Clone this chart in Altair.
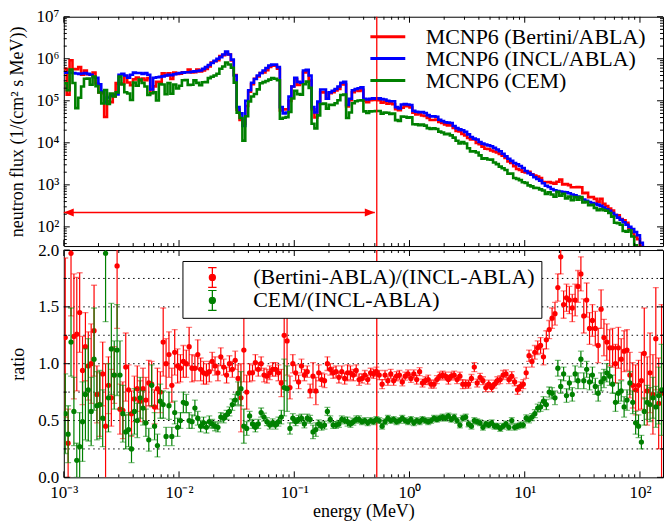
import math
import pandas as pd
import altair as alt

FONT = "Liberation Serif"
RED, BLUE, GREEN = "#ff0000", "#0000ff", "#008000"

# ---- energy grid: 40 log-spaced bins per decade from 1 keV to 158.5 MeV ----
EDGE_MANTISSA = [1.000, 1.059, 1.122, 1.189, 1.259, 1.334, 1.413, 1.496, 1.585, 1.679,
                 1.778, 1.884, 1.995, 2.113, 2.239, 2.371, 2.512, 2.661, 2.818, 2.985,
                 3.162, 3.350, 3.548, 3.758, 3.981, 4.217, 4.467, 4.732, 5.012, 5.309,
                 5.623, 5.957, 6.310, 6.683, 7.079, 7.499, 7.943, 8.414, 8.913, 9.441]
DECADES = [1e-3, 1e-2, 1e-1, 1.0, 10.0, 100.0]
E_MAX = 158.5
N_BINS = 208

# ---- INCL/ABLA neutron flux per bin, log10 of 1/(cm^2 s MeV) ----
INCL_LOG_FLUX = [
    5.67, 5.67, 5.67, 5.66, 5.65, 5.64, 5.65, 5.66, 5.64, 5.62,
    5.56, 5.55, 5.39, 5.22, 4.96, 5.08, 5.12, 5.15, 5.15, 5.62,
    5.64, 5.60, 5.55, 5.62, 5.67, 5.66, 5.66, 5.64, 5.66, 5.62,
    5.27, 5.55, 5.56, 5.57, 5.58, 5.60, 5.62, 5.61, 5.63, 5.65,
    5.66, 5.67, 5.68, 5.68, 5.69, 5.70, 5.71, 5.72, 5.76, 5.80,
    5.85, 5.90, 5.95, 6.00, 6.04, 6.10, 6.17, 6.10, 5.98, 5.60,
    4.85, 4.70, 4.40, 5.00, 5.25, 5.43, 5.52, 5.60, 5.66, 5.72,
    5.78, 5.84, 5.86, 5.86, 5.80, 4.85, 4.70, 4.72, 5.10, 5.34,
    5.55, 5.45, 5.43, 5.72, 5.74, 5.60, 4.85, 4.72, 4.98, 5.27,
    5.27, 5.05, 5.20, 5.24, 5.28, 5.34, 5.43, 5.45, 4.90, 5.05,
    5.25, 5.28, 5.30, 5.32, 5.05, 5.03, 5.05, 5.06, 5.05, 5.06,
    5.04, 5.03, 5.00, 4.99, 4.99, 4.85, 4.82, 4.91, 4.92, 4.91,
    4.90, 4.76, 4.74, 4.73, 4.73, 4.71, 4.66, 4.63, 4.63, 4.62,
    4.55, 4.52, 4.49, 4.48, 4.47, 4.40, 4.35, 4.32, 4.30, 4.26,
    4.20, 4.14, 4.10, 4.08, 4.02, 3.98, 3.96, 3.94, 3.92, 3.88,
    3.84, 3.80, 3.74, 3.68, 3.62, 3.57, 3.52, 3.49, 3.45, 3.40,
    3.33, 3.28, 3.24, 3.18, 3.14, 3.10, 3.04, 2.98, 2.95, 2.90,
    2.87, 2.85, 2.84, 2.83, 2.82, 2.80, 2.77, 2.75, 2.72, 2.69,
    2.65, 2.62, 2.59, 2.57, 2.55, 2.53, 2.50, 2.46, 2.42, 2.38,
    2.33, 2.28, 2.22, 2.17, 2.11, 2.05, 2.00, 1.95, 1.88, 1.80,
    1.62, 1.30, 1.25, 1.20, 1.15, 1.10, 1.05, 1.00,
]

# ---- (Bertini-ABLA)/(INCL-ABLA) ratio and its uncertainty ----
BERTINI_RATIO = [
    1.23, 0.30, 1.97, 1.24, 1.26, 1.45, 0.94, 1.15, 0.98, 1.00,
    1.29, 0.73, 0.64, 0.91, 0.45, 0.81, 0.70, 0.90, 1.86, 0.60,
    0.59, 0.97, 0.77, 0.56, 0.69, 0.78, 0.67, 0.78, 0.68, 0.83,
    0.82, 0.62, 0.78, 0.75, 1.19, 1.00, 1.08, 0.81, 1.10, 0.98,
    0.96, 1.02, 1.00, 1.15, 0.96, 0.96, 1.08, 0.95, 0.92, 0.91,
    0.93, 1.02, 0.98, 0.92, 1.06, 0.97, 0.90, 1.00, 0.95, 1.03,
    0.87, 0.70, 1.12, 0.75, 0.92, 0.92, 1.01, 0.95, 1.00, 0.90,
    0.89, 0.92, 0.95, 0.95, 0.92, 0.83, 1.25, 1.20, 0.79, 1.00,
    0.92, 0.84, 0.98, 0.90, 0.93, 0.76, 0.89, 0.76, 0.92, 0.86,
    0.85, 1.00, 0.95, 0.92, 0.93, 0.88, 0.93, 0.87, 0.92, 0.92,
    0.90, 0.94, 0.86, 0.87, 0.90, 0.86, 0.92, 0.91, 0.93, 0.90,
    0.82, 0.90, 0.85, 0.91, 0.85, 0.89, 0.90, 0.84, 0.89, 0.91,
    0.87, 0.91, 0.86, 0.93, 0.83, 0.85, 0.86, 0.82, 0.82, 0.86,
    0.89, 0.90, 0.89, 0.86, 0.89, 0.90, 0.86, 0.89, 0.82, 0.82,
    0.82, 0.87, 0.97, 0.83, 0.88, 0.85, 0.79, 0.82, 0.79, 0.82,
    0.85, 0.86, 0.90, 0.91, 0.86, 0.89, 0.84, 0.77, 0.80, 0.82,
    0.92, 1.07, 1.02, 1.10, 1.14, 1.16, 1.06, 1.21, 1.30, 1.40,
    1.44, 1.67, 1.94, 1.52, 1.58, 1.56, 1.49, 1.56, 1.68, 1.79,
    1.42, 1.56, 1.31, 1.38, 1.31, 1.16, 1.48, 1.23, 1.19, 1.14,
    1.14, 1.00, 1.14, 1.04, 1.11, 1.12, 0.90, 0.81, 0.77, 0.81,
    0.85, 1.09, 0.76, 0.92, 0.73, 1.22, 0.65, 0.74,
]
BERTINI_ERR = [
    0.70, 0.30, 0.55, 0.55, 0.50, 0.35, 0.30, 0.30, 0.30, 0.35,
    0.40, 0.25, 0.28, 0.28, 0.55, 0.25, 0.25, 0.25, 0.55, 0.22,
    0.25, 0.30, 0.22, 0.20, 0.20, 0.20, 0.18, 0.18, 0.20, 0.20,
    0.20, 0.15, 0.18, 0.18, 0.30, 0.22, 0.20, 0.15, 0.20, 0.15,
    0.12, 0.14, 0.12, 0.17, 0.12, 0.11, 0.13, 0.10, 0.10, 0.09,
    0.09, 0.08, 0.08, 0.07, 0.08, 0.07, 0.07, 0.07, 0.07, 0.08,
    0.12, 0.30, 0.28, 0.15, 0.08, 0.07, 0.07, 0.06, 0.06, 0.06,
    0.06, 0.06, 0.06, 0.06, 0.07, 0.12, 0.40, 0.30, 0.10, 0.08,
    0.07, 0.06, 0.06, 0.05, 0.05, 0.06, 0.12, 0.12, 0.07, 0.06,
    0.06, 0.06, 0.05, 0.05, 0.05, 0.05, 0.05, 0.05, 0.07, 0.06,
    0.05, 0.05, 0.05, 0.04, 0.04, 0.04, 0.04, 0.04, 0.04, 0.04,
    0.04, 0.04, 0.04, 0.04, 0.04, 0.04, 0.04, 0.035, 0.035, 0.035,
    0.035, 0.035, 0.04, 0.035, 0.035, 0.035, 0.04, 0.035, 0.035, 0.035,
    0.035, 0.035, 0.035, 0.04, 0.035, 0.035, 0.035, 0.035, 0.04, 0.035,
    0.035, 0.035, 0.04, 0.035, 0.035, 0.035, 0.035, 0.035, 0.035, 0.035,
    0.035, 0.035, 0.04, 0.035, 0.035, 0.04, 0.035, 0.04, 0.04, 0.04,
    0.05, 0.05, 0.05, 0.06, 0.06, 0.07, 0.07, 0.08, 0.08, 0.09,
    0.10, 0.12, 0.15, 0.12, 0.12, 0.12, 0.12, 0.14, 0.14, 0.15,
    0.15, 0.15, 0.14, 0.14, 0.15, 0.15, 0.17, 0.16, 0.16, 0.16,
    0.17, 0.17, 0.18, 0.18, 0.18, 0.18, 0.20, 0.20, 0.22, 0.22,
    0.25, 0.40, 0.30, 0.35, 0.35, 0.45, 0.40, 0.78,
]

# ---- CEM/(INCL-ABLA) ratio and its uncertainty ----
CEM_RATIO = [
    0.56, 0.38, 1.19, 0.58, 0.15, 0.27, 0.49, 0.73, 0.77, 0.58,
    1.04, 0.63, 0.64, 0.52, 1.97, 0.70, 1.13, 0.90, 1.12, 0.90,
    0.56, 0.40, 0.42, 0.25, 0.58, 0.50, 0.70, 0.61, 0.48, 0.33,
    0.81, 0.45, 0.28, 0.67, 0.64, 0.36, 0.63, 0.36, 0.57, 0.44,
    0.50, 0.66, 0.65, 0.50, 0.49, 0.61, 0.52, 0.45, 0.48, 0.44,
    0.49, 0.47, 0.45, 0.44, 0.53, 0.52, 0.55, 0.58, 0.64, 0.68,
    0.74, 0.78, 0.45, 0.43, 0.54, 0.47, 0.44, 0.47, 0.57, 0.53,
    0.49, 0.46, 0.48, 0.46, 0.49, 0.53, 0.79, 0.78, 0.43, 0.52,
    0.49, 0.51, 0.52, 0.47, 0.52, 0.51, 0.40, 0.42, 0.47, 0.45,
    0.46, 0.58, 0.51, 0.46, 0.46, 0.47, 0.51, 0.50, 0.49, 0.47,
    0.49, 0.51, 0.51, 0.49, 0.50, 0.48, 0.50, 0.49, 0.51, 0.50,
    0.45, 0.49, 0.52, 0.50, 0.51, 0.49, 0.50, 0.52, 0.50, 0.49,
    0.51, 0.48, 0.50, 0.49, 0.51, 0.50, 0.49, 0.50, 0.52, 0.51,
    0.52, 0.53, 0.52, 0.54, 0.51, 0.53, 0.50, 0.46, 0.52, 0.53,
    0.47, 0.45, 0.50, 0.49, 0.48, 0.44, 0.47, 0.46, 0.48, 0.45,
    0.45, 0.43, 0.45, 0.47, 0.44, 0.50, 0.44, 0.45, 0.46, 0.46,
    0.52, 0.51, 0.53, 0.56, 0.61, 0.62, 0.67, 0.64, 0.75, 0.74,
    0.70, 0.96, 0.80, 0.91, 0.72, 0.83, 0.73, 0.91, 0.85, 1.04,
    0.85, 0.95, 0.84, 0.90, 0.80, 0.74, 0.84, 0.87, 0.92, 0.89,
    0.82, 0.66, 0.74, 0.76, 0.62, 0.68, 0.83, 0.66, 0.48, 0.45,
    0.31, 0.58, 0.66, 0.64, 0.70, 0.62, 0.72, 0.77,
]
CEM_ERR = [
    0.35, 0.25, 0.30, 0.30, 0.15, 0.30, 0.35, 0.40, 0.45, 0.30,
    0.45, 0.30, 0.30, 0.25, 0.60, 0.30, 0.40, 0.30, 0.40, 0.30,
    0.25, 0.15, 0.15, 0.12, 0.20, 0.15, 0.18, 0.15, 0.12, 0.10,
    0.18, 0.12, 0.10, 0.15, 0.12, 0.08, 0.12, 0.08, 0.10, 0.08,
    0.07, 0.09, 0.08, 0.07, 0.06, 0.07, 0.06, 0.05, 0.05, 0.05,
    0.05, 0.04, 0.04, 0.04, 0.04, 0.04, 0.04, 0.04, 0.05, 0.05,
    0.10, 0.15, 0.15, 0.06, 0.04, 0.04, 0.04, 0.04, 0.04, 0.035,
    0.035, 0.035, 0.035, 0.035, 0.04, 0.06, 0.25, 0.20, 0.05, 0.04,
    0.035, 0.035, 0.035, 0.035, 0.035, 0.035, 0.06, 0.06, 0.035, 0.035,
    0.035, 0.035, 0.03, 0.03, 0.03, 0.03, 0.03, 0.03, 0.04, 0.03,
    0.03, 0.03, 0.03, 0.025, 0.025, 0.025, 0.025, 0.025, 0.025, 0.025,
    0.025, 0.025, 0.025, 0.025, 0.025, 0.025, 0.025, 0.025, 0.025, 0.025,
    0.025, 0.025, 0.025, 0.025, 0.025, 0.025, 0.025, 0.025, 0.025, 0.025,
    0.025, 0.025, 0.025, 0.025, 0.025, 0.025, 0.025, 0.025, 0.025, 0.025,
    0.025, 0.025, 0.025, 0.025, 0.025, 0.025, 0.025, 0.025, 0.025, 0.025,
    0.025, 0.025, 0.025, 0.025, 0.025, 0.025, 0.025, 0.025, 0.025, 0.025,
    0.03, 0.03, 0.03, 0.035, 0.035, 0.04, 0.04, 0.045, 0.045, 0.05,
    0.06, 0.07, 0.06, 0.06, 0.06, 0.06, 0.06, 0.07, 0.07, 0.07,
    0.07, 0.07, 0.07, 0.07, 0.07, 0.07, 0.08, 0.08, 0.08, 0.08,
    0.08, 0.08, 0.09, 0.09, 0.09, 0.09, 0.10, 0.10, 0.10, 0.10,
    0.06, 0.12, 0.15, 0.15, 0.18, 0.18, 0.25, 0.40,
]

FLUX_NAMES = ["MCNP6 (Bertini/ABLA)", "MCNP6 (INCL/ABLA)", "MCNP6 (CEM)"]
RATIO_NAMES = ["(Bertini-ABLA)/(INCL-ABLA)", "CEM/(INCL-ABLA)"]

CUT_ENERGY = 0.52           # vertical marker line (MeV)
ARROW_SPAN = [1e-3, 0.5]    # double arrow below the spectrum (MeV)
ARROW_FLUX = 220

X_MAJOR = [1e-3, 1e-2, 1e-1, 1.0, 10.0, 100.0]
FLUX_MAJOR = [1e2, 1e3, 1e4, 1e5, 1e6, 1e7]
RATIO_MAJOR = [0.0, 0.5, 1.0, 1.5, 2.0]
RATIO_MINOR = [0.25, 0.75, 1.25, 1.75]
RATIO_GRID = [0.25, 0.5, 0.75, 1.0, 1.25, 1.5, 1.75]

for arr in (INCL_LOG_FLUX, BERTINI_RATIO, BERTINI_ERR, CEM_RATIO, CEM_ERR):
    if len(arr) != N_BINS:
        raise ValueError(f"expected {N_BINS} bins, got {len(arr)}")

# ---- tables ----
edges = [m * d for d in DECADES for m in EDGE_MANTISSA][:N_BINS] + [E_MAX]
centers = [math.sqrt(a * b) for a, b in zip(edges[:-1], edges[1:])]

incl = [10 ** v for v in INCL_LOG_FLUX]
bertini = [f * r for f, r in zip(incl, BERTINI_RATIO)]
cem = [f * r for f, r in zip(incl, CEM_RATIO)]

rows = []
for name, vals in zip(FLUX_NAMES, [bertini, incl, cem]):
    for e, v in zip(edges, vals + [vals[-1]]):
        rows.append({"E": e, "flux": v, "series": name})
flux_df = pd.DataFrame(rows)

rrows = []
for name, ratio, err in zip(RATIO_NAMES, [BERTINI_RATIO, CEM_RATIO], [BERTINI_ERR, CEM_ERR]):
    for e, r, s in zip(centers, ratio, err):
        rrows.append({"E": e, "ratio": r, "lo": r - s, "hi": r + s, "series": name})
ratio_df = pd.DataFrame(rrows)

x_minor = [m * d for d in DECADES for m in range(2, 10) if m * d < E_MAX]
flux_minor = [m * d for d in [10.0, 1e2, 1e3, 1e4, 1e5, 1e6] for m in range(2, 10) if m * d >= 35]

# ---- geometry ----
W = 601
H_TOP = 230
H_BOT = 228
MAJOR_LEN, MINOR_LEN = 6, 3

x_scale = alt.Scale(type="log", domain=[1e-3, E_MAX], nice=False)
flux_scale = alt.Scale(type="log", domain=[35, 1e7], nice=False)
ratio_scale = alt.Scale(domain=[0, 2], nice=False, zero=False)

SUP = "['\u2070','\u00b9','\u00b2','\u00b3','\u2074','\u2075','\u2076','\u2077','\u2078','\u2079']"
EXP = "round(log(datum.value) / LN10)"
POW10 = f"'10' + ({EXP} < 0 ? '\u207b' : '') + {SUP}[abs({EXP})]"

# ---- axes (the same spec is handed to every layer of a panel so they merge) ----
flux_axis = alt.Axis(values=FLUX_MAJOR, labelExpr=POW10, ticks=False, domain=False, grid=False,
                     labelPadding=5, labelFontSize=17, labelOverlap=False,
                     title="neutron flux (1/(cm\u00b2 s MeV))", titleFontSize=18,
                     titleX=-46, titleY=H_TOP / 2, titleBaseline="middle", titleAngle=270)
ratio_axis = alt.Axis(values=RATIO_MAJOR, format=".1f", ticks=False, domain=False, grid=False,
                      labelPadding=5, labelFontSize=17, labelOverlap=False,
                      title="ratio", titleFontSize=18,
                      titleX=-45, titleY=H_BOT / 2, titleBaseline="middle", titleAngle=270)
energy_axis = alt.Axis(values=X_MAJOR, labelExpr=POW10, ticks=False, domain=False, grid=False,
                       labelPadding=7, labelFontSize=17, labelFlush=False, labelOverlap=False,
                       title="energy (MeV)", titleFontSize=18, titlePadding=2)


def frame_ticks(values, channel, scale, axis, width, height, length):
    """Inward tick marks on both opposite edges of a panel."""
    df = pd.DataFrame({"v": values})
    base = alt.Chart(df).mark_rule(color="black", strokeWidth=1)
    if channel == "x":
        pos = alt.X("v:Q", scale=scale, axis=axis)
        return [base.encode(x=pos, y=alt.value(height), y2=alt.value(height - length)),
                base.encode(x=pos, y=alt.value(0), y2=alt.value(length))]
    pos = alt.Y("v:Q", scale=scale, axis=axis)
    return [base.encode(y=pos, x=alt.value(0), x2=alt.value(length)),
            base.encode(y=pos, x=alt.value(width), x2=alt.value(width - length))]


def cut_rule(x_axis):
    return alt.Chart(pd.DataFrame({"E": [CUT_ENERGY]})).mark_rule(
        color=RED, strokeWidth=1.3).encode(x=alt.X("E:Q", scale=x_scale, axis=x_axis))


# ---- upper panel: flux spectra ----
x_top = alt.X("E:Q", scale=x_scale, axis=None)
flux_legend = alt.Legend(title=None, orient="none", legendX=306, legendY=9,
                         symbolType="stroke", symbolSize=1225, symbolStrokeWidth=3,
                         labelFont=FONT, labelFontSize=22, labelOffset=19, labelLimit=400,
                         padding=0, rowPadding=0, clipHeight=22)
flux_color = alt.Color("series:N", scale=alt.Scale(domain=FLUX_NAMES, range=[RED, BLUE, GREEN]),
                       legend=flux_legend)


def flux_line(name):
    return (alt.Chart(flux_df).transform_filter(alt.datum.series == name)
            .mark_line(interpolate="step-after", strokeWidth=2.6, clip=True)
            .encode(x=x_top, y=alt.Y("flux:Q", scale=flux_scale, axis=flux_axis), color=flux_color))


arrow_df = pd.DataFrame({"E0": [ARROW_SPAN[0]], "E1": [ARROW_SPAN[1]], "flux": [ARROW_FLUX]})
arrow_line = alt.Chart(arrow_df).mark_rule(color=RED, strokeWidth=1.3).encode(
    x=alt.X("E0:Q", scale=x_scale, axis=None), x2="E1:Q",
    y=alt.Y("flux:Q", scale=flux_scale, axis=flux_axis))
head_left = alt.Chart(pd.DataFrame({"E": [ARROW_SPAN[0]], "flux": [ARROW_FLUX]})).mark_point(
    shape="M0,0L2,-0.8L2,0.8Z", size=100, filled=True, color=RED, opacity=1, strokeWidth=0
).encode(x=x_top, y=alt.Y("flux:Q", scale=flux_scale, axis=flux_axis))
head_right = alt.Chart(pd.DataFrame({"E": [ARROW_SPAN[1]], "flux": [ARROW_FLUX]})).mark_point(
    shape="M0,0L-2,-0.8L-2,0.8Z", size=100, filled=True, color=RED, opacity=1, strokeWidth=0
).encode(x=x_top, y=alt.Y("flux:Q", scale=flux_scale, axis=flux_axis))

top_layers = [flux_line(n) for n in FLUX_NAMES] + [cut_rule(None), arrow_line, head_left, head_right]
top_layers += frame_ticks(X_MAJOR, "x", x_scale, None, W, H_TOP, MAJOR_LEN)
top_layers += frame_ticks(x_minor, "x", x_scale, None, W, H_TOP, MINOR_LEN)
top_layers += frame_ticks(FLUX_MAJOR, "y", flux_scale, flux_axis, W, H_TOP, MAJOR_LEN)
top_layers += frame_ticks(flux_minor, "y", flux_scale, flux_axis, W, H_TOP, MINOR_LEN)
top = alt.layer(*top_layers).properties(width=W, height=H_TOP)

# ---- lower panel: ratios with error bars ----
x_bot = alt.X("E:Q", scale=x_scale, axis=energy_axis)

# legend glyph: filled dot with a capped vertical error bar
RATIO_GLYPH = ("M-0.3,0A0.3,0.3,0,1,1,0.3,0A0.3,0.3,0,1,1,-0.3,0Z"
               "M0,-1L0,1M-0.42,-1L0.42,-1M-0.42,1L0.42,1")
ratio_legend = alt.Legend(
    title="\u2003", titleOrient="right", titleFontSize=16, titlePadding=0,
    orient="none", legendX=119, legendY=11,
    symbolType=RATIO_GLYPH, symbolSize=400, symbolStrokeWidth=1.3, symbolOpacity=1,
    symbolStrokeColor={"expr": f"datum.value === '{RATIO_NAMES[1]}' ? '{GREEN}' : '{RED}'"},
    symbolOffset=13, labelOffset=30, labelFont=FONT, labelFontSize=22, labelLimit=400,
    padding=6, rowPadding=0, clipHeight=21, strokeColor="black", fillColor="white")
ratio_color = alt.Color("series:N", scale=alt.Scale(domain=RATIO_NAMES, range=[RED, GREEN]),
                        legend=ratio_legend)

grid = alt.Chart(pd.DataFrame({"r": RATIO_GRID})).mark_rule(
    color="black", strokeWidth=1, strokeDash=[1.5, 3.5]
).encode(y=alt.Y("r:Q", scale=ratio_scale, axis=ratio_axis))


def ratio_layers(name, color):
    base = alt.Chart(ratio_df).transform_filter(alt.datum.series == name)
    bars = base.mark_rule(color=color, strokeWidth=1.2, clip=True).encode(
        x=x_bot, y=alt.Y("lo:Q", scale=ratio_scale, axis=ratio_axis), y2="hi:Q")
    caps = [base.mark_tick(color=color, orient="horizontal", size=6, thickness=1.3,
                           opacity=0.5, clip=True).encode(
                x=x_bot, y=alt.Y(f"{f}:Q", scale=ratio_scale, axis=ratio_axis))
            for f in ("lo", "hi")]
    dots = base.mark_circle(size=28, opacity=1, clip=True).encode(
        x=x_bot, y=alt.Y("ratio:Q", scale=ratio_scale, axis=ratio_axis), color=ratio_color)
    return [bars] + caps + [dots]


bottom_layers = [grid, cut_rule(energy_axis)]
bottom_layers += ratio_layers(RATIO_NAMES[0], RED)
bottom_layers += ratio_layers(RATIO_NAMES[1], GREEN)
bottom_layers += frame_ticks(X_MAJOR, "x", x_scale, energy_axis, W, H_BOT, MAJOR_LEN)
bottom_layers += frame_ticks(x_minor, "x", x_scale, energy_axis, W, H_BOT, MINOR_LEN)
bottom_layers += frame_ticks(RATIO_MAJOR, "y", ratio_scale, ratio_axis, W, H_BOT, MAJOR_LEN)
bottom_layers += frame_ticks(RATIO_MINOR, "y", ratio_scale, ratio_axis, W, H_BOT, MINOR_LEN)
bottom = alt.layer(*bottom_layers).properties(width=W, height=H_BOT)

chart = (
    alt.vconcat(top, bottom, spacing=4, bounds="flush")
    .resolve_scale(color="independent")
    .properties(padding={"left": 8, "top": 6, "right": 1, "bottom": 0})
    .configure_view(stroke="black", strokeWidth=1)
    .configure_axis(labelFont=FONT, titleFont=FONT, labelColor="black", titleColor="black",
                    titleFontWeight="normal")
    .configure_legend(labelFont=FONT, titleFont=FONT)
)

chart.save("out.html", embed_options={"renderer": "svg", "actions": False})
